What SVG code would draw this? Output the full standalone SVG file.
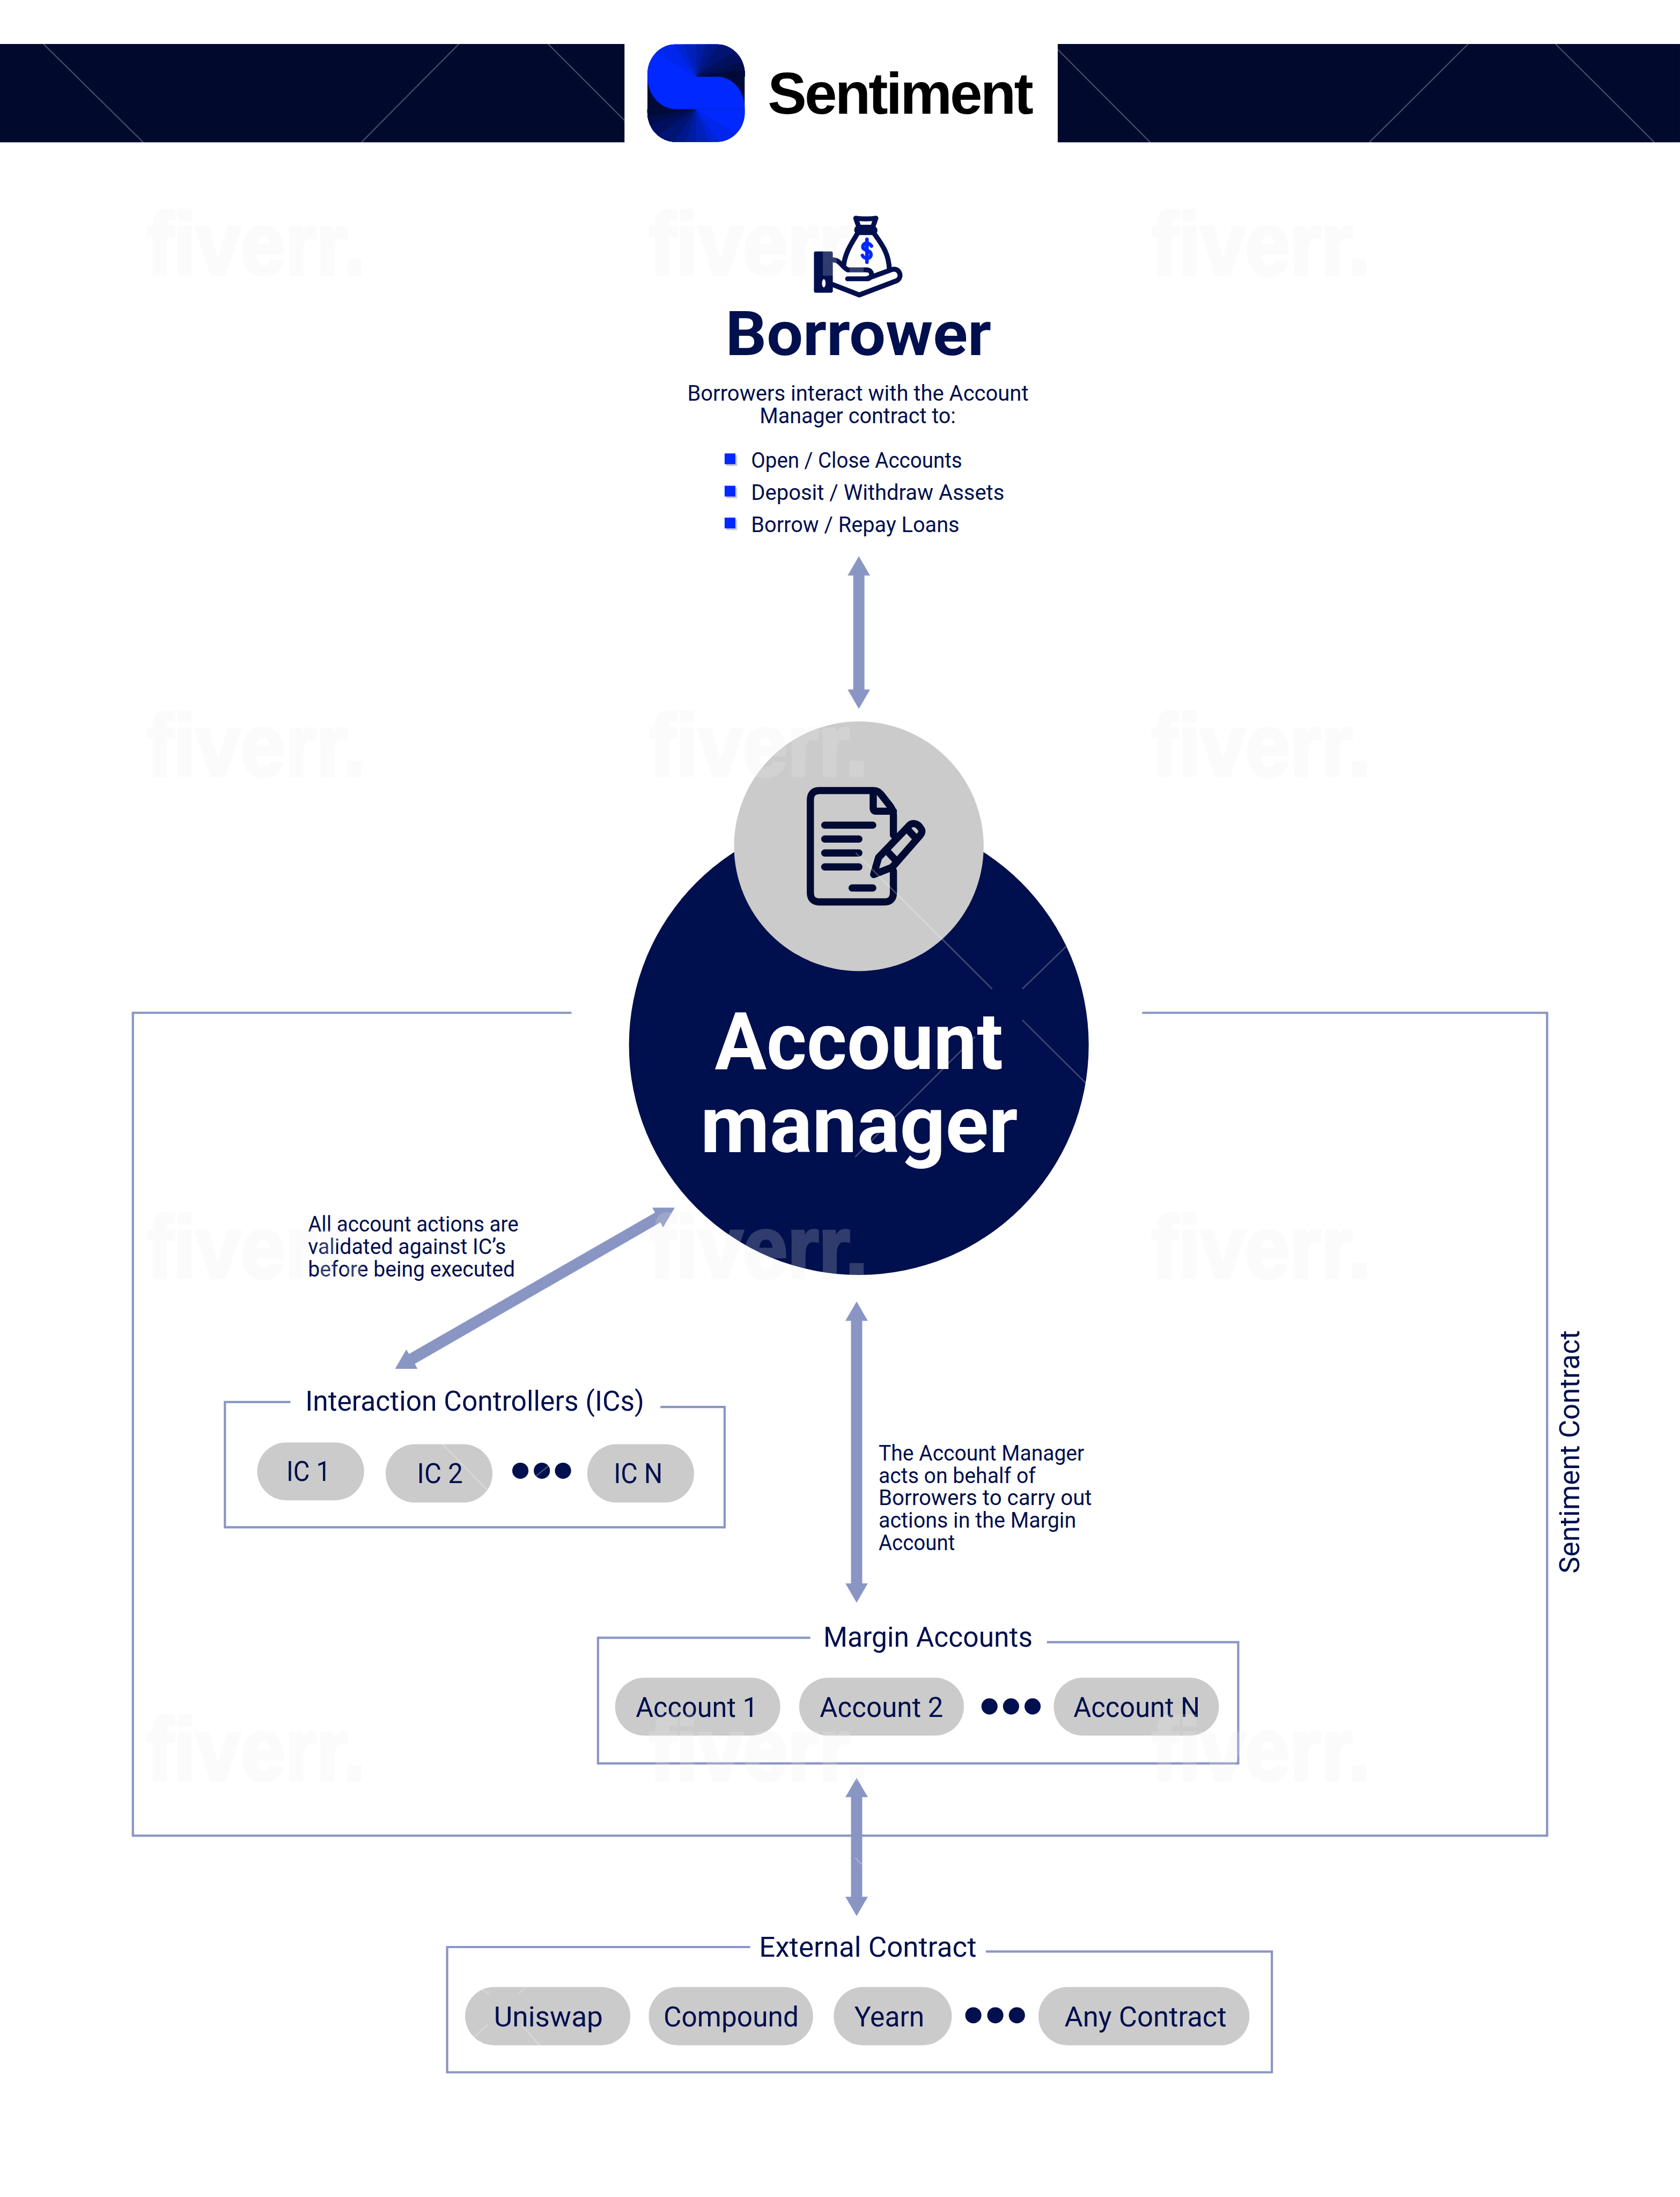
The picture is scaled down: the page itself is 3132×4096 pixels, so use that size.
<svg xmlns="http://www.w3.org/2000/svg" width="3132" height="4096" viewBox="0 0 3132 4096">
<style>
text{font-family:Roboto,"Noto Sans","Liberation Sans",sans-serif;fill:#000f4d}
.t{font-size:62px;font-weight:400}
.s{font-size:49px;font-weight:400}
.f{fill:none;stroke:#8996c4;stroke-width:5}
.p{fill:#cbcbcb}
.d{fill:#000f4d}
.a{fill:#8996c4}
.ic{fill:none;stroke:#000a33;stroke-width:16;stroke-linecap:round;stroke-linejoin:round}
text.wm{font-family:"Liberation Sans",sans-serif;font-weight:700;font-size:196px;fill:#eee;stroke:#eee;stroke-width:7;opacity:.2}
.wl{stroke:#fff;stroke-width:3;opacity:.25;fill:none}
</style>
<defs>
<path id="hd" d="M0 0L-25 43H25Z"/>
<clipPath id="lc"><rect x="1442" y="99" width="217" height="217" rx="62" ry="66"/></clipPath>
<g id="fan">
<path fill="#0028ff" d="M1551 171L1400 171L1400 40L1700 40L1700 171Z"/>
<path fill="#0026ec" d="M1551 171L1400 80L1400 40L1700 40L1700 171Z"/>
<path fill="#0023d4" d="M1551 171L1460 40L1700 40L1700 171Z"/>
<path fill="#0020bb" d="M1551 171L1500 40L1700 40L1700 171Z"/>
<path fill="#001ca3" d="M1551 171L1551 40L1700 40L1700 171Z"/>
<path fill="#00188b" d="M1551 171L1590 40L1700 40L1700 171Z"/>
<path fill="#001474" d="M1551 171L1640 40L1700 40L1700 171Z"/>
<path fill="#00105e" d="M1551 171L1700 70L1700 171Z"/>
<path fill="#000d4a" d="M1551 171L1700 120L1700 171Z"/>
<path fill="#000a38" d="M1551 171L1700 150L1700 171Z"/>
</g>
</defs>
<rect width="3132" height="4096" fill="#fff"/>
<g transform="scale(.83698)">
<g id="header">
<rect x="0" y="98" width="1391" height="219" fill="#010a2d"/>
<rect x="2356" y="98" width="1386" height="219" fill="#010a2d"/>
<path class="wl" d="M97 98L319 317M805 317L1022 98M1221 98L1391 268M2356 110L2562 317M3050 317L3270 98M3465 98L3685 317"/>
</g>
<g id="logo">
<g clip-path="url(#lc)">
<rect x="1442" y="99" width="217" height="217" fill="#000a38"/>
<use href="#fan"/>
<use href="#fan" transform="rotate(180 1550.5 207)"/>
<path fill="#0028ff" d="M1442 171H1597C1635 171 1659 205 1659 243H1506C1469 243 1442 210 1442 171Z"/>
</g>
<text x="1710" y="253" font-size="130" font-weight="700" textLength="592" lengthAdjust="spacing" style="font-family:'Liberation Sans',sans-serif;fill:#000">Sentiment</text>
</g>
<g id="borrower">
<rect x="1813" y="560" width="42" height="92" rx="4" fill="#000f4d"/>
<ellipse cx="1835" cy="631" rx="4" ry="9" fill="#fff"/>
<g fill="none" stroke="#000f4d" stroke-width="11" stroke-linejoin="round" stroke-linecap="round">
<path d="M1906 486C1918 488 1940 488 1951 486L1944 506H1913Z"/>
<path fill="#000f4d" d="M1911 518C1906 512 1908 508 1914 508H1944C1950 510 1950 514 1947 518Z"/>
<path d="M1910 520C1898 540 1882 562 1879 593M1947 520C1965 545 1980 565 1981 601"/>
<path d="M1855 579C1870 578 1875 594 1888 601H1930C1945 601 1945 621 1930 621C1912 621 1895 621 1888 621M1930 621L1985 601C2002 594 2012 616 1998 625L1914 657L1855 634"/>
</g>
<path d="M1931 533V584M1941 548C1934 538 1923 541 1922 549C1921 559 1940 556 1940 567C1940 577 1925 578 1921 569" fill="none" stroke="#0028ff" stroke-width="8" stroke-linecap="round"/>
<text x="1616" y="791" font-size="138" font-weight="700" textLength="592" lengthAdjust="spacingAndGlyphs">Borrower</text>
<text class="s" x="1531" y="893" textLength="760" lengthAdjust="spacingAndGlyphs">Borrowers interact with the Account</text>
<text class="s" x="1692" y="943" textLength="437" lengthAdjust="spacingAndGlyphs">Manager contract to:</text>
<rect x="1618" y="1014" width="24" height="24" fill="#cbcbcb"/><rect x="1614" y="1010" width="24" height="24" fill="#0028ff"/>
<rect x="1618" y="1086" width="24" height="24" fill="#cbcbcb"/><rect x="1614" y="1082" width="24" height="24" fill="#0028ff"/>
<rect x="1618" y="1157" width="24" height="24" fill="#cbcbcb"/><rect x="1614" y="1153" width="24" height="24" fill="#0028ff"/>
<text class="s" x="1673" y="1042" textLength="470" lengthAdjust="spacingAndGlyphs">Open / Close Accounts</text>
<text class="s" x="1673" y="1113" textLength="564" lengthAdjust="spacingAndGlyphs">Deposit / Withdraw Assets</text>
<text class="s" x="1673" y="1185" textLength="464" lengthAdjust="spacingAndGlyphs">Borrow / Repay Loans</text>
</g>
<g id="sentiment-contract">
<path class="f" d="M1273 2256H296V4089H3446V2256H2544"/>
<text transform="translate(3518 3505) rotate(-90)" class="t" textLength="542" lengthAdjust="spacingAndGlyphs">Sentiment Contract</text>
</g>
<g id="account-manager">
<circle cx="1913" cy="2328" r="512" fill="#000f4d"/>
<circle cx="1913" cy="1885" r="278" fill="#cbcbcb"/>
<g class="ic">
<path d="M1990 1860V1815C1990 1805 1985 1798 1980 1792L1962 1769C1958 1764 1952 1761 1945 1761H1825C1812 1761 1805 1768 1805 1782V1988C1805 2002 1812 2009 1825 2009H1970C1983 2009 1990 2002 1990 1988V1940"/>
<path d="M1945 1762V1800C1945 1805 1947 1807 1952 1807H1990"/>
<path d="M1837 1838H1944M1837 1869H1913M1837 1900H1913M1837 1931H1913M1898 1978H1944"/>
<path fill="#cbcbcb" d="M1946 1948L1957 1910L2024 1840C2030 1832 2040 1833 2047 1840C2054 1848 2056 1852 2050 1860L1995 1923C1988 1931 1988 1930 1987 1932Z"/>
<path d="M1977 1897L1994 1915M2022 1848L2039 1866"/>
</g>
<text x="1592" y="2381" font-size="178" font-weight="700" textLength="642" lengthAdjust="spacingAndGlyphs" style="fill:#fff">Account</text>
<text x="1560" y="2566" font-size="178" font-weight="700" textLength="707" lengthAdjust="spacingAndGlyphs" style="fill:#fff">manager</text>
</g>
<g id="connectors">
<rect class="a" x="1900.5" y="1275" width="25" height="270"/>
<use href="#hd" class="a" x="1913" y="1239"/>
<use href="#hd" class="a" transform="translate(1913 1579) rotate(180)"/>
<rect class="a" x="1895.5" y="2935" width="25" height="600"/>
<use href="#hd" class="a" x="1908" y="2899"/>
<use href="#hd" class="a" transform="translate(1908 3570) rotate(180)"/>
<rect class="a" x="1895.5" y="3995" width="25" height="240"/>
<use href="#hd" class="a" x="1908" y="3960"/>
<use href="#hd" class="a" transform="translate(1908 4268) rotate(180)"/>
<path class="a" d="M1503 2690L1453 2690L1459 2701L911 3016L905 3006L880 3049L930 3049L924 3038L1471 2723L1477 2734Z"/>
</g>
<g id="note-ics">
<text class="s" x="686" y="2743" textLength="469" lengthAdjust="spacingAndGlyphs">All account actions are</text>
<text class="s" x="686" y="2793" textLength="441" lengthAdjust="spacingAndGlyphs">validated against IC’s</text>
<text class="s" x="686" y="2843" textLength="461" lengthAdjust="spacingAndGlyphs">before being executed</text>
</g>
<g id="note-margin">
<text class="s" x="1957" y="3253" textLength="458" lengthAdjust="spacingAndGlyphs">The Account Manager</text>
<text class="s" x="1957" y="3303" textLength="350" lengthAdjust="spacingAndGlyphs">acts on behalf of</text>
<text class="s" x="1957" y="3353" textLength="475" lengthAdjust="spacingAndGlyphs">Borrowers to carry out</text>
<text class="s" x="1957" y="3403" textLength="440" lengthAdjust="spacingAndGlyphs">actions in the Margin</text>
<text class="s" x="1957" y="3453" textLength="170" lengthAdjust="spacingAndGlyphs">Account</text>
</g>
<g id="interaction-controllers">
<path class="f" d="M647 3123H501V3402H1614V3134H1471"/>
<text class="t" x="680" y="3142" textLength="755" lengthAdjust="spacingAndGlyphs">Interaction Controllers (ICs)</text>
<rect class="p" x="573" y="3213" width="238" height="129" rx="65"/>
<rect class="p" x="859" y="3217" width="238" height="130" rx="65"/>
<rect class="p" x="1308" y="3217" width="238" height="130" rx="65"/>
<text class="t" x="638" y="3299" textLength="98" lengthAdjust="spacingAndGlyphs">IC 1</text>
<text class="t" x="929" y="3304" textLength="102" lengthAdjust="spacingAndGlyphs">IC 2</text>
<text class="t" x="1367" y="3304" textLength="109" lengthAdjust="spacingAndGlyphs">IC N</text>
<circle class="d" cx="1159" cy="3276" r="18"/><circle class="d" cx="1207" cy="3276" r="18"/><circle class="d" cx="1254" cy="3276" r="18"/>
</g>
<g id="margin-accounts">
<path class="f" d="M1805 3648H1332V3928H2758V3658H2332"/>
<text class="t" x="1834" y="3668" textLength="466" lengthAdjust="spacingAndGlyphs">Margin Accounts</text>
<rect class="p" x="1370" y="3737" width="368" height="129" rx="65"/>
<rect class="p" x="1780" y="3737" width="367" height="129" rx="65"/>
<rect class="p" x="2347" y="3737" width="368" height="129" rx="65"/>
<text class="t" x="1416" y="3824" textLength="272" lengthAdjust="spacingAndGlyphs">Account 1</text>
<text class="t" x="1826" y="3824" textLength="275" lengthAdjust="spacingAndGlyphs">Account 2</text>
<text class="t" x="2391" y="3824" textLength="282" lengthAdjust="spacingAndGlyphs">Account N</text>
<circle class="d" cx="2204" cy="3801" r="18"/><circle class="d" cx="2252" cy="3801" r="18"/><circle class="d" cx="2300" cy="3801" r="18"/>
</g>
<g id="external-contract">
<path class="f" d="M1671 4337H996V4616H2833V4347H2196"/>
<text class="t" x="1691" y="4358" textLength="484" lengthAdjust="spacingAndGlyphs">External Contract</text>
<rect class="p" x="1036" y="4426" width="368" height="130" rx="65"/>
<rect class="p" x="1445" y="4426" width="366" height="130" rx="65"/>
<rect class="p" x="1857" y="4426" width="263" height="130" rx="65"/>
<rect class="p" x="2313" y="4426" width="470" height="130" rx="65"/>
<text class="t" x="1100" y="4514" textLength="243" lengthAdjust="spacingAndGlyphs">Uniswap</text>
<text class="t" x="1478" y="4514" textLength="301" lengthAdjust="spacingAndGlyphs">Compound</text>
<text class="t" x="1903" y="4514" textLength="156" lengthAdjust="spacingAndGlyphs">Yearn</text>
<text class="t" x="2371" y="4514" textLength="361" lengthAdjust="spacingAndGlyphs">Any Contract</text>
<circle class="d" cx="2168" cy="4489" r="18"/><circle class="d" cx="2217" cy="4489" r="18"/><circle class="d" cx="2265" cy="4489" r="18"/>
</g>
<g id="watermark">
<path class="wl" d="M1906 1900L2210 2203M2277 2272L2418 2412M2378 2105L2277 2203M2172 2309L1905 2577M985 3216L1084 3318M1191 3290L1222 3265M1063 4426L1090 4442M1172 4426L1154 4442M1087 4509L1039 4553M1160 4509L1202 4556M1905 4138L1920 4153"/>
<text class="wm" x="327" y="610" textLength="487" lengthAdjust="spacingAndGlyphs">fiverr.</text><text class="wm" x="1446" y="610" textLength="487" lengthAdjust="spacingAndGlyphs">fiverr.</text><text class="wm" x="2565" y="610" textLength="487" lengthAdjust="spacingAndGlyphs">fiverr.</text>
<text class="wm" x="327" y="1728" textLength="487" lengthAdjust="spacingAndGlyphs">fiverr.</text><text class="wm" x="1446" y="1728" textLength="487" lengthAdjust="spacingAndGlyphs">fiverr.</text><text class="wm" x="2565" y="1728" textLength="487" lengthAdjust="spacingAndGlyphs">fiverr.</text>
<text class="wm" x="327" y="2846" textLength="487" lengthAdjust="spacingAndGlyphs">fiverr.</text><text class="wm" x="1446" y="2846" textLength="487" lengthAdjust="spacingAndGlyphs">fiverr.</text><text class="wm" x="2565" y="2846" textLength="487" lengthAdjust="spacingAndGlyphs">fiverr.</text>
<text class="wm" x="327" y="3964" textLength="487" lengthAdjust="spacingAndGlyphs">fiverr.</text><text class="wm" x="1446" y="3964" textLength="487" lengthAdjust="spacingAndGlyphs">fiverr.</text><text class="wm" x="2565" y="3964" textLength="487" lengthAdjust="spacingAndGlyphs">fiverr.</text>
</g>
</g>
</svg>
